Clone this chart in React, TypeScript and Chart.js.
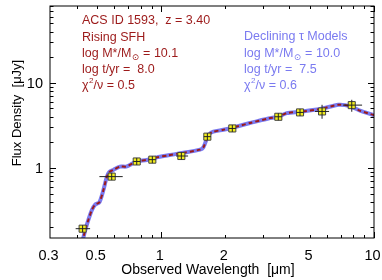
import React, { useEffect, useRef } from "react";
import { Chart, registerables } from "chart.js";
Chart.register(...registerables);

// Model SED (observed wavelength in micron, flux density in microJy)
const modelWavelength = [0.42, 0.43, 0.446, 0.471, 0.488, 0.512, 0.534, 0.554, 0.568, 0.595, 0.64, 0.683, 0.727, 0.767, 0.855, 0.953, 1.079, 1.226, 1.522, 1.577, 1.636, 1.683, 1.758, 1.959, 2.18, 2.61, 3.19, 3.55, 3.89, 4.49, 5.58, 6.8, 7.31, 7.86, 8.6, 10.0, 10.6];
const modelRising = [0.11, 0.15, 0.211, 0.316, 0.368, 0.395, 0.542, 0.776, 0.888, 0.947, 1.036, 1.036, 1.114, 1.19, 1.241, 1.331, 1.405, 1.483, 1.639, 1.744, 2.188, 2.503, 2.665, 2.81, 2.99, 3.37, 3.815, 3.99, 4.41, 4.57, 4.92, 5.52, 5.47, 5.23, 4.7, 4.16, 3.95];
const modelDeclining = [0.11, 0.15, 0.211, 0.316, 0.368, 0.395, 0.542, 0.776, 0.888, 0.947, 1.036, 1.036, 1.114, 1.19, 1.241, 1.331, 1.405, 1.483, 1.639, 1.744, 2.188, 2.503, 2.665, 2.81, 2.99, 3.37, 3.815, 3.99, 4.41, 4.57, 4.92, 5.52, 5.47, 5.23, 4.7, 4.16, 3.95];

// Photometry
const obsWavelength = [0.427, 0.585, 0.767, 0.908, 1.243, 1.647, 2.158, 3.55, 4.49, 5.7, 7.86];
const obsFlux = [0.193, 0.79, 1.19, 1.25, 1.38, 2.33, 2.91, 3.99, 4.49, 4.61, 5.47];
const obsWaveLow = [0.396, 0.512, 0.76, 0.9, 1.174, 1.6, 2.14, 3.52, 4.46, 5.28, 7.14];
const obsWaveHigh = [0.463, 0.659, 0.775, 0.916, 1.337, 1.68, 2.18, 3.58, 4.52, 6.15, 8.79];
const obsFluxLow = [0.19, 0.78, 1.18, 1.24, 1.37, 2.31, 2.89, 3.96, 4.46, 3.78, 4.57];
const obsFluxHigh = [0.196, 0.8, 1.2, 1.26, 1.39, 2.35, 2.93, 4.02, 4.52, 5.52, 6.32];

// Axes
const xTickValues = [0.3, 0.5, 1, 2, 5, 10];
const xTickLabels = ["0.3", "0.5", "1", "2", "5", "10"];
const xMajorTicks = [1, 10];
const xMinorTicks = [0.4, 0.5, 0.6, 0.7, 0.8, 0.9, 2, 3, 4, 5, 6, 7, 8, 9];
const yTickValues = [1, 10];
const yTickLabels = ["1", "10"];
const yMajorTicks = [1, 10];
const yMinorTicks = [0.2, 0.3, 0.4, 0.5, 0.6, 0.7, 0.8, 0.9, 2, 3, 4, 5, 6, 7, 8, 9, 20, 30, 40, 50, 60, 70, 80];

const xTitle = "Observed Wavelength  [\u03bcm]";
const yTitle = "Flux Density  [\u03bcJy]";

const redLines = [
  [["ACS ID 1593,  z = 3.40", "n"]],
  [["Rising SFH", "n"]],
  [["log M*/M", "n"], ["\u2299", "sub"], [" = 10.1", "n"]],
  [["log t/yr =  8.0", "n"]],
  [["\u03c7", "n"], ["2", "sup"], ["/\u03bd = 0.5", "n"]],
];
const blueLines = [
  [["Declining \u03c4 Models", "n"]],
  [["log M*/M", "n"], ["\u2299", "sub"], [" = 10.0", "n"]],
  [["log t/yr =  7.5", "n"]],
  [["\u03c7", "n"], ["2", "sup"], ["/\u03bd = 0.6", "n"]],
];

const RED = "#9c1a1a";
const BLUE = "#7a7af0";
const FONT = "'Liberation Sans', 'DejaVu Sans', Arial, sans-serif";

function drawRich(ctx: CanvasRenderingContext2D, x: number, y: number, parts: any[], size: number) {
  let cx = x;
  for (const [t, kind] of parts) {
    if (kind === "n") {
      ctx.font = `${size}px ${FONT}`;
      ctx.fillText(t, cx, y);
      cx += ctx.measureText(t).width;
    } else if (kind === "sub") {
      ctx.font = `${size * 0.7}px ${FONT}`;
      ctx.fillText(t, cx + 0.5, y + 4);
      cx += ctx.measureText(t).width + 1;
    } else {
      ctx.font = `${size * 0.65}px ${FONT}`;
      ctx.fillText(t, cx + 0.5, y - 4.5);
      cx += ctx.measureText(t).width + 0.5;
    }
  }
}

const decor = {
  id: "decor",
  afterDatasetsDraw(chart: any) {
    const ctx = chart.ctx as CanvasRenderingContext2D;
    const xs = chart.scales.x;
    const ys = chart.scales.y;
    ctx.save();
    ctx.strokeStyle = "#222";
    ctx.lineWidth = 1;
    for (let i = 0; i < obsWavelength.length; i++) {
      const px = xs.getPixelForValue(obsWavelength[i]);
      const py = ys.getPixelForValue(obsFlux[i]);
      const xl = Math.min(xs.getPixelForValue(obsWaveLow[i]), px - 3.5);
      const xh = Math.max(xs.getPixelForValue(obsWaveHigh[i]), px + 3.5);
      const yl = Math.max(ys.getPixelForValue(obsFluxLow[i]), py + 3.5);
      const yh = Math.min(ys.getPixelForValue(obsFluxHigh[i]), py - 3.5);
      ctx.beginPath();
      ctx.moveTo(xl, py);
      ctx.lineTo(xh, py);
      ctx.moveTo(px, yl);
      ctx.lineTo(px, yh);
      ctx.stroke();
    }
    ctx.restore();
  },
  afterDraw(chart: any) {
    const ctx = chart.ctx as CanvasRenderingContext2D;
    const a = chart.chartArea;
    const xs = chart.scales.x;
    const ys = chart.scales.y;
    ctx.save();
    ctx.strokeStyle = "#000";
    ctx.lineWidth = 1;
    ctx.strokeRect(a.left, a.top, a.right - a.left, a.bottom - a.top);
    ctx.beginPath();
    const xt = (v: number, len: number) => {
      const p = Math.round(xs.getPixelForValue(v)) + 0.5;
      ctx.moveTo(p, a.bottom);
      ctx.lineTo(p, a.bottom - len);
      ctx.moveTo(p, a.top);
      ctx.lineTo(p, a.top + len);
    };
    const yt = (v: number, len: number) => {
      const p = Math.round(ys.getPixelForValue(v)) + 0.5;
      ctx.moveTo(a.left, p);
      ctx.lineTo(a.left + len, p);
      ctx.moveTo(a.right, p);
      ctx.lineTo(a.right - len, p);
    };
    xMajorTicks.forEach((v) => xt(v, 6));
    xMinorTicks.forEach((v) => xt(v, 3));
    yMajorTicks.forEach((v) => yt(v, 6));
    yMinorTicks.forEach((v) => yt(v, 3.5));
    ctx.stroke();

    ctx.fillStyle = "#000";
    ctx.font = `14.5px ${FONT}`;
    ctx.textAlign = "center";
    ctx.textBaseline = "middle";
    xTickValues.forEach((v, i) => {
      ctx.fillText(xTickLabels[i], xs.getPixelForValue(v) - 1.5, 256);
    });
    ctx.textAlign = "right";
    yTickValues.forEach((v, i) => {
      ctx.fillText(yTickLabels[i], 43, ys.getPixelForValue(v) + 1);
    });
    ctx.font = `14px ${FONT}`;
    ctx.textAlign = "center";
    ctx.fillText(xTitle, 208, 270);
    ctx.save();
    ctx.translate(17, 113);
    ctx.rotate(-Math.PI / 2);
    ctx.font = `13px ${FONT}`;
    ctx.fillText(yTitle, 0, 0);
    ctx.restore();

    ctx.textAlign = "left";
    ctx.fillStyle = RED;
    redLines.forEach((ln, i) => drawRich(ctx, 82, 21 + i * 16.1, ln, 12.5));
    ctx.fillStyle = BLUE;
    blueLines.forEach((ln, i) => drawRich(ctx, 244, 37 + i * 16.1, ln, 12.5));
    ctx.restore();
  },
};

export default function App() {
  const ref = useRef<HTMLCanvasElement>(null);
  useEffect(() => {
    if (!ref.current) return;
    const chart = new Chart(ref.current, {
      type: "line",
      data: {
        datasets: [
          {
            type: "scatter",
            data: obsWavelength.map((x, i) => ({ x, y: obsFlux[i] })),
            pointStyle: "rect",
            pointRadius: 5,
            backgroundColor: "#f2ee1c",
            borderColor: "#444",
            borderWidth: 1,
            order: 0,
          } as any,
          {
            data: modelWavelength.map((x, i) => ({ x, y: modelRising[i] })),
            borderColor: RED,
            borderWidth: 2,
            borderDash: [4, 3],
            pointRadius: 0,
            tension: 0.25,
            order: 1,
          },
          {
            data: modelWavelength.map((x, i) => ({ x, y: modelDeclining[i] })),
            borderColor: BLUE,
            borderWidth: 4,
            pointRadius: 0,
            tension: 0.25,
            order: 2,
          },
        ],
      },
      options: {
        responsive: false,
        animation: false,
        events: [],
        layout: { padding: { left: 50, right: 8, top: 5, bottom: 42 } },
        plugins: { legend: { display: false }, tooltip: { enabled: false } },
        scales: {
          x: { type: "logarithmic", min: 0.3, max: 10, display: false },
          y: { type: "logarithmic", min: 0.15, max: 80, display: false },
        },
      },
      plugins: [decor],
    });
    return () => chart.destroy();
  }, []);
  return (
    <div style={{ position: "absolute", left: 0, top: 0, width: 382, height: 280, background: "#fff" }}>
      <canvas ref={ref} width={382} height={280} />
    </div>
  );
}
